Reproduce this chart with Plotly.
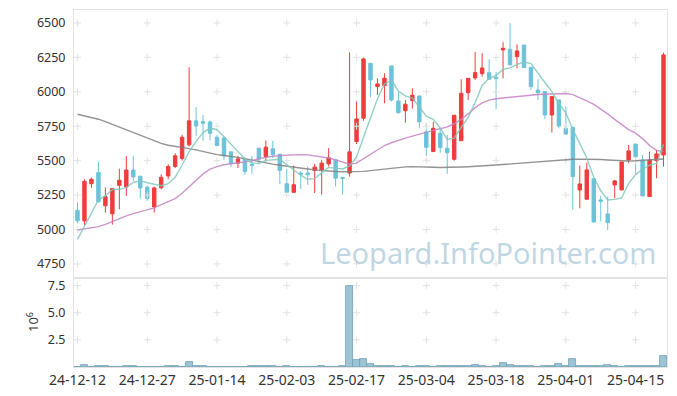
import plotly.graph_objects as go
import pandas as pd

dates = [
    "24-12-12", "24-12-13", "24-12-16", "24-12-17", "24-12-18", "24-12-19", "24-12-20", "24-12-23",
    "24-12-24", "24-12-26", "24-12-27", "24-12-30",
    "25-01-02", "25-01-03", "25-01-06", "25-01-07", "25-01-08", "25-01-09", "25-01-10", "25-01-13",
    "25-01-14", "25-01-15", "25-01-16", "25-01-17", "25-01-20", "25-01-21", "25-01-22", "25-01-23",
    "25-01-24", "25-01-31",
    "25-02-03", "25-02-04", "25-02-05", "25-02-06", "25-02-07", "25-02-10", "25-02-11", "25-02-12",
    "25-02-13", "25-02-14", "25-02-17", "25-02-18", "25-02-19", "25-02-20", "25-02-21", "25-02-24",
    "25-02-25", "25-02-26", "25-02-27", "25-02-28",
    "25-03-04", "25-03-05", "25-03-06", "25-03-07", "25-03-10", "25-03-11", "25-03-12", "25-03-13",
    "25-03-14", "25-03-17", "25-03-18", "25-03-19", "25-03-20", "25-03-21", "25-03-24", "25-03-25",
    "25-03-26", "25-03-27", "25-03-28", "25-03-31",
    "25-04-01", "25-04-02", "25-04-03", "25-04-04", "25-04-07", "25-04-08", "25-04-09", "25-04-10",
    "25-04-11", "25-04-14", "25-04-15", "25-04-16", "25-04-17", "25-04-18", "25-04-21",
]

opens = [5140, 5063, 5333, 5413, 5172, 5114, 5321, 5309, 5432, 5387,
         5307, 5164, 5304, 5389, 5458, 5516, 5615, 5789, 5784, 5781,
         5670, 5666, 5564, 5482, 5511, 5472, 5591, 5530, 5586, 5547,
         5332, 5270, 5410, 5410, 5429, 5434, 5477, 5506, 5378, 5410,
         5639, 5808, 6207, 6038, 6045, 6188, 5934, 5863, 5936, 5970,
         5709, 5566, 5699, 5590, 5510, 5645, 5994, 6101, 6132, 6139,
         6106, 6304, 6309, 6255, 6340, 6178, 6013, 6002, 5832, 5941,
         5735, 5742, 5287, 5220, 5369, 5215, 5113, 5324, 5287, 5505,
         5621, 5505, 5239, 5500, 5541]
highs = [5196, 5365, 5377, 5493, 5304, 5297, 5442, 5534, 5534, 5387,
         5321, 5312, 5401, 5474, 5554, 5687, 6178, 5888, 5832, 5791,
         5687, 5666, 5564, 5535, 5525, 5535, 5591, 5646, 5644, 5547,
         5439, 5465, 5426, 5458, 5477, 5506, 5591, 5506, 5378, 6286,
         5929, 6248, 6207, 6098, 6135, 6188, 5998, 5941, 6026, 5970,
         5772, 5783, 5735, 5687, 5830, 6091, 6098, 6289, 6280, 6236,
         6144, 6360, 6498, 6345, 6340, 6178, 6091, 6002, 5965, 5941,
         5893, 5742, 5464, 5486, 5369, 5245, 5239, 5360, 5491, 5614,
         5621, 5541, 5566, 5578, 6284]
lows = [5046, 5033, 5304, 5196, 5123, 5036, 5147, 5244, 5353, 5225,
        5208, 5123, 5292, 5365, 5446, 5501, 5603, 5680, 5646, 5646,
        5603, 5506, 5453, 5446, 5398, 5405, 5482, 5494, 5518, 5330,
        5270, 5270, 5294, 5325, 5265, 5253, 5458, 5313, 5253, 5384,
        5621, 5790, 5960, 5977, 5917, 5929, 5839, 5776, 5878, 5735,
        5534, 5566, 5558, 5404, 5500, 5645, 5941, 6086, 6110, 6091,
        5873, 6098, 6195, 6171, 6176, 6013, 5941, 5801, 5704, 5735,
        5687, 5142, 5154, 5220, 5054, 5060, 4997, 5227, 5287, 5481,
        5404, 5244, 5239, 5372, 5457]
closes = [5063, 5350, 5365, 5201, 5239, 5297, 5358, 5432, 5382, 5302,
          5225, 5302, 5379, 5457, 5535, 5670, 5789, 5752, 5772, 5699,
          5610, 5535, 5482, 5513, 5422, 5465, 5511, 5598, 5545, 5429,
          5270, 5325, 5402, 5398, 5453, 5482, 5521, 5373, 5371, 5564,
          5803, 6239, 6086, 6057, 6098, 5941, 5849, 5910, 5975, 5783,
          5597, 5735, 5595, 5558, 5830, 5989, 6098, 6139, 6173, 6091,
          6096, 6316, 6195, 6297, 6176, 6038, 5994, 5832, 5965, 5752,
          5694, 5384, 5331, 5433, 5054, 5205, 5050, 5353, 5491, 5571,
          5529, 5244, 5505, 5549, 6268]
# closes of the four sessions before the window (needed for the 5-day average)
prior_closes = [4890, 4880, 4716, 5096]

# volume in millions of shares
volumes_m = [0, 0.22, 0, 0.08, 0.08, 0, 0, 0.08, 0.08, 0,
             0, 0, 0, 0.08, 0.08, 0, 0.42, 0.08, 0.08, 0,
             0, 0, 0, 0, 0, 0.08, 0.08, 0.08, 0.08, 0,
             0.08, 0, 0, 0, 0, 0.08, 0, 0, 0.08, 7.45,
             0.6, 0.7, 0.3, 0.08, 0.08, 0.08, 0, 0.08, 0, 0.08,
             0.08, 0, 0.08, 0.08, 0.08, 0.08, 0.08, 0.2, 0.08, 0,
             0.08, 0.4, 0.2, 0.08, 0.08, 0.08, 0, 0.08, 0.08, 0.3,
             0.08, 0.7, 0.08, 0.08, 0.08, 0.08, 0.22, 0.08, 0, 0.08,
             0.08, 0.08, 0.08, 0.08, 1.05]

ma20 = [4997, 5004, 5011, 5021, 5038, 5060, 5079, 5099, 5115, 5128,
        5140, 5157, 5181, 5205, 5224, 5263, 5311, 5360, 5404, 5438,
        5457, 5470, 5478, 5486, 5491, 5498, 5515, 5525, 5532, 5537,
        5541, 5543, 5544, 5542, 5536, 5529, 5519, 5506, 5490, 5474,
        5482, 5515, 5548, 5580, 5610, 5630, 5648, 5664, 5678, 5693,
        5708, 5720, 5732, 5745, 5768, 5800, 5840, 5885, 5920, 5940,
        5950, 5955, 5962, 5968, 5973, 5977, 5980, 5982, 5984, 5987,
        5988, 5980, 5960, 5935, 5908, 5875, 5840, 5800, 5760, 5725,
        5700, 5660, 5610, 5575, 5566]
ma60 = [5837, 5825, 5815, 5801, 5784, 5764, 5745, 5723, 5703, 5682,
        5663, 5643, 5626, 5612, 5605, 5597, 5587, 5578, 5566, 5554,
        5544, 5538, 5532, 5524, 5514, 5503, 5493, 5483, 5475, 5467,
        5459, 5452, 5445, 5439, 5433, 5428, 5424, 5421, 5420, 5419,
        5419, 5422, 5428, 5434, 5440, 5446, 5451, 5455, 5457, 5457,
        5455, 5452, 5450, 5450, 5451, 5454, 5456, 5458, 5461, 5465,
        5468, 5472, 5476, 5479, 5482, 5487, 5493, 5498, 5502, 5505,
        5508, 5510, 5511, 5511, 5510, 5508, 5505, 5502, 5499, 5498,
        5499, 5501, 5505, 5508, 5512]

price_ticks = [4750, 5000, 5250, 5500, 5750, 6000, 6250, 6500]
vol_ticks = [2.5, 5.0, 7.5]
vol_tick_text = ["2.5", "5.0", "7.5"]
x_tick_labels = dates[::10]

ma5 = (pd.Series(prior_closes + closes).rolling(5).mean()
       .iloc[len(prior_closes):].tolist())

UP = "#F03C3C"
DOWN = "#6CC3D9"
GRID = "#e2e2e2"
FONT = "Noto Sans"

fig = go.Figure()

# grid crosses
gx, gy = [], []
for d in x_tick_labels:
    for p in price_ticks:
        gx.append(d)
        gy.append(p)
fig.add_trace(go.Scatter(x=gx, y=gy, mode="markers", xaxis="x", yaxis="y",
                         marker=dict(symbol="cross-thin", size=5,
                                     line=dict(color=GRID, width=1)),
                         hoverinfo="skip", showlegend=False))
vx, vy = [], []
for d in x_tick_labels:
    for v in vol_ticks:
        vx.append(d)
        vy.append(v)
fig.add_trace(go.Scatter(x=vx, y=vy, mode="markers", xaxis="x2", yaxis="y2",
                         marker=dict(symbol="cross-thin", size=5,
                                     line=dict(color=GRID, width=1)),
                         hoverinfo="skip", showlegend=False))

fig.add_trace(go.Candlestick(
    x=dates, open=opens, high=highs, low=lows, close=closes,
    xaxis="x", yaxis="y",
    increasing=dict(fillcolor=UP, line=dict(color=UP, width=1)),
    decreasing=dict(fillcolor=DOWN, line=dict(color=DOWN, width=1)),
    whiskerwidth=0, showlegend=False, hoverinfo="skip"))

fig.add_trace(go.Scatter(x=dates, y=ma60, mode="lines", xaxis="x", yaxis="y",
                         line=dict(color="rgba(128,128,128,0.85)", width=1.4),
                         showlegend=False, hoverinfo="skip"))
fig.add_trace(go.Scatter(x=dates, y=ma20, mode="lines", xaxis="x", yaxis="y",
                         line=dict(color="rgba(196,130,196,0.85)", width=1.4),
                         showlegend=False, hoverinfo="skip"))
fig.add_trace(go.Scatter(x=dates, y=ma5, mode="lines", xaxis="x", yaxis="y",
                         line=dict(color="rgba(128,200,188,0.85)", width=1.4),
                         showlegend=False, hoverinfo="skip"))

fig.add_trace(go.Bar(x=dates, y=volumes_m, xaxis="x2", yaxis="y2",
                     marker=dict(color="rgba(140,186,204,0.85)",
                                 line=dict(color="#6f9fb4", width=0.8)),
                     showlegend=False, hoverinfo="skip"))

# page body has an 8px default margin; figure sized so the plot lands at the reference spot
W, H = 669, 388
ML, MR, MT, MB = 66, 10, 2, 29
plot_h = H - MT - MB
plot_w = W - ML - MR
split = (plot_h - (278 - 10)) / plot_h

fig.update_layout(
    width=W, height=H,
    margin=dict(l=ML, r=MR, t=MT, b=MB, autoexpand=False),
    paper_bgcolor="white", plot_bgcolor="white",
    font=dict(family=FONT, size=13, color="#333333"),
    bargap=0, boxgap=0.3,
    showlegend=False,
    xaxis=dict(type="category", categoryorder="array", categoryarray=dates,
               range=[-0.5, len(dates) - 0.5], anchor="y", matches="x2",
               showticklabels=False, showgrid=False, zeroline=False,
               showline=True, mirror=True, linecolor="#e3e3e3", linewidth=1,
               rangeslider=dict(visible=False), ticks="", automargin=False),
    yaxis=dict(domain=[split, 1], range=[4648, 6594], tickvals=price_ticks,
               showgrid=False, zeroline=False, showline=True, mirror=True,
               linecolor="#e3e3e3", linewidth=1, ticks="", automargin=False,
               ticklabelstandoff=5, tickfont=dict(size=12.5)),
    xaxis2=dict(type="category", categoryorder="array", categoryarray=dates,
                range=[-0.5, len(dates) - 0.5], anchor="y2",
                tickvals=x_tick_labels, ticktext=x_tick_labels,
                showgrid=False, zeroline=False, showline=True, mirror=True,
                linecolor="#e3e3e3", linewidth=1, ticks="", automargin=False,
                tickfont=dict(size=14)),
    yaxis2=dict(domain=[0, split], range=[0, 8.2], tickvals=vol_ticks,
                ticktext=vol_tick_text, showgrid=False, zeroline=False,
                showline=True, mirror=True, linecolor="#e3e3e3", linewidth=1,
                ticks="", ticklabelstandoff=5, tickfont=dict(size=12.5),
                automargin=False),
)

# volume axis unit label (10^6)
fig.add_annotation(text="10<sup>6</sup>", xref="paper", yref="paper",
                   x=-(74 - 32) / plot_w, y=(367 - 322) / plot_h,
                   xanchor="center", yanchor="middle", textangle=-90,
                   showarrow=False, font=dict(family=FONT, size=13, color="#333333"))

fig.add_annotation(text="Leopard.InfoPointer.com", xref="paper", yref="paper",
                   x=(488 - 74) / plot_w, y=(367 - 252) / plot_h,
                   xanchor="center", yanchor="middle", showarrow=False,
                   font=dict(family=FONT, size=29, color="rgba(150,188,209,0.6)"))

fig.write_html("out.html")
